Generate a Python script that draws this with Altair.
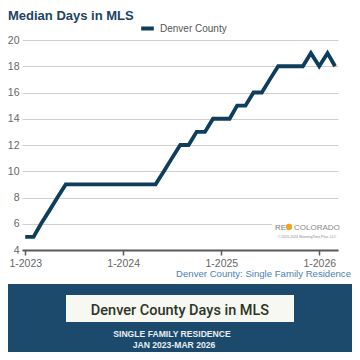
import altair as alt
import pandas as pd

# Monthly median days in MLS, Denver County (Jan 2023 - Mar 2026)
years = [2023] * 12 + [2024] * 12 + [2025] * 12 + [2026] * 3
months = list(range(1, 13)) * 3 + [1, 2, 3]
values = [5, 5, 6, 7, 8, 9, 9, 9, 9, 9, 9, 9,
          9, 9, 9, 9, 9, 10, 11, 12, 12, 13, 13, 14,
          14, 14, 15, 15, 16, 16, 17, 18, 18, 18, 18, 19,
          18, 19, 18]
series = ["Denver County"] * len(values)
y_ticks = [4, 6, 8, 10, 12, 14, 16, 18, 20]
x_tick_years = [2023, 2024, 2025, 2026]

df = pd.DataFrame({"year": years, "month": months, "days": values, "series": series})

NAVY = "#0f3d5c"
FONT = "Liberation Sans, Arial, sans-serif"

base = alt.Chart(df).transform_calculate(
    date="datetime(datum.year, datum.month - 1, 1)"
)

line = base.mark_line(strokeWidth=3.8, strokeJoin="miter", strokeCap="butt").encode(
    x=alt.X(
        "date:T",
        title=None,
        scale=alt.Scale(domain=[alt.DateTime(year=2022, month=12, date=20),
                                alt.DateTime(year=2026, month=3, date=12)]),
        axis=alt.Axis(
            values=[alt.DateTime(year=y, month=1, date=1) for y in x_tick_years],
            format="%-m-%Y", grid=False, domainColor="#5a5a5a", domainWidth=2,
            tickColor="#5a5a5a", tickSize=5, tickWidth=1.5, labelColor="#666666",
            labelFontSize=10.5, labelFont=FONT, labelPadding=3,
        ),
    ),
    y=alt.Y(
        "days:Q",
        title=None,
        scale=alt.Scale(domain=[4, 20], nice=False, zero=False),
        axis=alt.Axis(
            values=y_ticks, grid=True, gridColor="#cfcfcf", gridWidth=1,
            domain=False, ticks=False, labelColor="#666666", labelFontSize=10.5,
            labelFont=FONT, labelPadding=3,
        ),
    ),
    color=alt.Color(
        "series:N", title=None,
        scale=alt.Scale(range=[NAVY]),
        legend=alt.Legend(
            orient="none", legendX=117, legendY=-20, direction="horizontal",
            symbolType="stroke", symbolSize=160, symbolStrokeWidth=4,
            labelFontSize=10, labelFont=FONT, labelColor="#555555", labelOffset=4,
        ),
    ),
)

def txt(text, x, y, size, color, align="left", weight="normal", font=FONT, baseline="alphabetic"):
    return alt.Chart(pd.DataFrame({"t": [text]})).mark_text(
        align=align, baseline=baseline, fontSize=size, fontWeight=weight,
        font=font, color=color,
    ).encode(text="t:N", x=alt.value(x), y=alt.value(y))

def rect(x, x2, y, y2, color):
    return alt.Chart(pd.DataFrame({"a": [0]})).mark_rect(color=color).encode(
        x=alt.value(x), x2=alt.value(x2), y=alt.value(y), y2=alt.value(y2)
    )

title = txt("Median Days in MLS", -14, -20, 13, "#1d4263", weight="bold")
subtitle = txt("Denver County: Single Family Residence", 329, 236.5, 9.6, "#4d7fb0", align="right")

# logo area
logo_bg = rect(250, 318, 176, 200, "#ffffff")
logo_re = txt("RE", 253, 190, 8, "#777777")
logo_dot = alt.Chart(pd.DataFrame({"a": [0]})).mark_circle(
    color="#f2a41c", opacity=1, size=40
).encode(x=alt.value(267), y=alt.value(187))
logo_co = txt("COLORADO", 272, 190, 8, "#888888")
logo_small = txt("© 2015-2024 ShowingTime Plus, LLC", 285, 198, 3.5, "#888888", align="center")

# banner
banner = rect(-14, 330, 244, 312, "#1b4a6d")
box = rect(44, 272, 255, 282, "#f6f8f1")
box_text = txt("Denver County Days in MLS", 158, 274.5, 14.5, "#2c3527", align="center",
               font="Roboto, Liberation Sans, sans-serif", weight=500)
line1 = txt("SINGLE FAMILY RESIDENCE", 150, 297, 8.6, "#e9eef2", align="center", weight="bold")
line2 = txt("JAN 2023-MAR 2026", 152, 307.5, 8.6, "#e9eef2", align="center", weight="bold")

chart = alt.layer(
    logo_bg, line, title, subtitle, logo_re, logo_dot, logo_co, logo_small,
    banner, box, box_text, line1, line2,
).properties(
    width=316, height=210,
    padding={"left": 14, "top": 32, "right": 14, "bottom": 102},
    autosize=alt.AutoSizeParams(type="none"),
    background="#ffffff",
).configure_view(stroke=None)

chart.save("out.html", embed_options={"renderer": "svg", "actions": False})
